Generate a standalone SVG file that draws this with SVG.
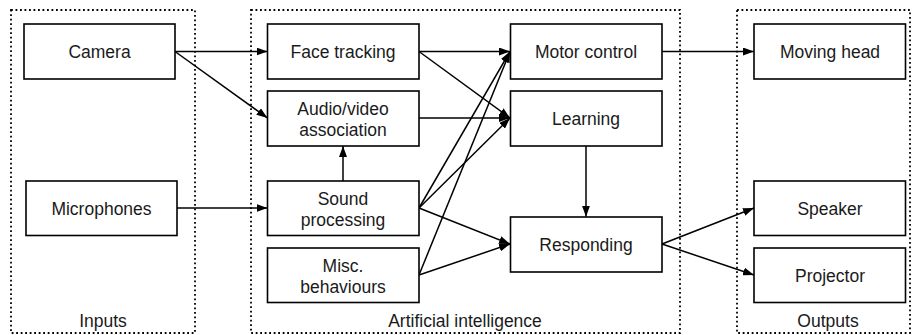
<svg xmlns="http://www.w3.org/2000/svg" width="912" height="335" viewBox="0 0 912 335">
<style>
.grp{fill:none;stroke:#000;stroke-width:1.8;stroke-dasharray:1.8 2.7}
.box{fill:#fff;stroke:#000;stroke-width:1.6}
.t{font-family:"Liberation Sans",Arial,sans-serif;font-size:17.5px;fill:#1a1a1a;text-anchor:middle}
.c line{stroke:#000;stroke-width:1.5;marker-end:url(#ah)}
</style>
<defs>
<marker id="ah" viewBox="0 0 11 8" refX="11" refY="4" markerWidth="11" markerHeight="8" markerUnits="userSpaceOnUse" orient="auto">
<path d="M0,0 L11,4 L0,8 Z" fill="#000"/>
</marker>
</defs>
<g id="inputs"><rect class="grp" x="11" y="10" width="184" height="323"/><text class="t" x="103" y="327">Inputs</text></g>
<g id="ai"><rect class="grp" x="251" y="10" width="429" height="323"/><text class="t" x="465" y="327">Artificial intelligence</text></g>
<g id="outputs"><rect class="grp" x="737" y="10" width="173" height="323"/><text class="t" x="828" y="327">Outputs</text></g>
<g class="c" id="connectors">
<line x1="175" y1="51.5" x2="267.5" y2="51.5"/>
<line x1="175" y1="51.5" x2="267.5" y2="118"/>
<line x1="419" y1="51.5" x2="510" y2="51.5"/>
<line x1="419" y1="51.5" x2="510" y2="118"/>
<line x1="419" y1="118" x2="510" y2="118"/>
<line x1="343" y1="181" x2="343" y2="146"/>
<line x1="177" y1="208" x2="267.5" y2="208"/>
<line x1="419" y1="208" x2="510" y2="51.5"/>
<line x1="419" y1="208" x2="510" y2="118"/>
<line x1="419" y1="208" x2="510" y2="244"/>
<line x1="419" y1="275" x2="510" y2="51.5"/>
<line x1="419" y1="275" x2="510" y2="244"/>
<line x1="586" y1="146" x2="586" y2="216.7"/>
<line x1="662" y1="51.5" x2="754" y2="51.5"/>
<line x1="662" y1="244" x2="754" y2="208"/>
<line x1="662" y1="244" x2="754" y2="275"/>
</g>
<g id="camera"><rect class="box" x="24" y="24" width="151" height="55"/><text class="t" x="99.5" y="58">Camera</text></g>
<g id="microphones"><rect class="box" x="26" y="181" width="151" height="54.5"/><text class="t" x="101.5" y="214.5">Microphones</text></g>
<g id="face"><rect class="box" x="267.5" y="24" width="151.5" height="55"/><text class="t" x="343" y="58">Face tracking</text></g>
<g id="av"><rect class="box" x="267.5" y="91" width="151.5" height="55"/><text class="t" x="343" y="115">Audio/video</text><text class="t" x="343" y="136">association</text></g>
<g id="sound"><rect class="box" x="267.5" y="181" width="151.5" height="54.5"/><text class="t" x="343" y="205">Sound</text><text class="t" x="343" y="226">processing</text></g>
<g id="misc"><rect class="box" x="267.5" y="248" width="151.5" height="54.5"/><text class="t" x="343" y="272">Misc.</text><text class="t" x="343" y="293">behaviours</text></g>
<g id="motor"><rect class="box" x="510.5" y="24" width="151.5" height="55"/><text class="t" x="586" y="58">Motor control</text></g>
<g id="learning"><rect class="box" x="510.5" y="91" width="151.5" height="55"/><text class="t" x="586" y="125">Learning</text></g>
<g id="responding"><rect class="box" x="510.5" y="217" width="151.5" height="55"/><text class="t" x="586" y="250.5">Responding</text></g>
<g id="moving"><rect class="box" x="754" y="24" width="151.5" height="55"/><text class="t" x="830" y="58">Moving head</text></g>
<g id="speaker"><rect class="box" x="754" y="181" width="151.5" height="54.5"/><text class="t" x="830" y="214.5">Speaker</text></g>
<g id="projector"><rect class="box" x="754" y="248" width="151.5" height="54.5"/><text class="t" x="830" y="281.5">Projector</text></g>
</svg>
